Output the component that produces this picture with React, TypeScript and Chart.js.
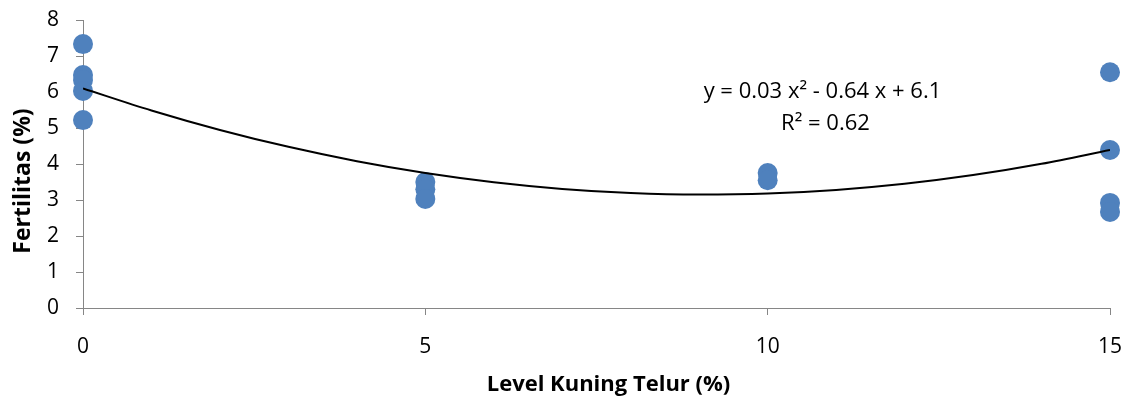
import React, { useEffect, useRef } from "react";
import { Chart, registerables } from "chart.js";

Chart.register(...registerables);

// Level Kuning Telur (%) for each observation
const levelValues: number[] = [0, 0, 0, 0, 0, 5, 5, 5, 10, 10, 15, 15, 15, 15];
// Fertilitas (%) for each observation
const fertilityValues: number[] = [7.33, 6.47, 6.33, 6.03, 5.22, 3.5, 3.3, 3.03, 3.75, 3.55, 6.55, 4.39, 2.92, 2.67];

// Polynomial trend line coefficients (y = a x^2 + b x + c)
const trendA = 0.0356;
const trendB = -0.648;
const trendC = 6.1;
const trendXs: number[] = [0, 1, 2, 3, 4, 5, 6, 7, 8, 9, 10, 11, 12, 13, 14, 15];

const equationLines: string[] = ["y = 0.03 x\u00B2 - 0.64 x + 6.1", "R\u00B2 = 0.62"];

const xTitle = "Level Kuning Telur (%)";
const yTitle = "Fertilitas (%)";

const FONT = "'Open Sans'";
const AXIS_GRAY = "#868686";
const POINT_BLUE = "#4F81BD";

export default function App() {
  const canvasRef = useRef<HTMLCanvasElement | null>(null);

  useEffect(() => {
    document.body.style.margin = "0";
    const canvas = canvasRef.current;
    if (!canvas) return;

    const points = levelValues.map((x, i) => ({ x, y: fertilityValues[i] }));
    const trend = trendXs.map((x) => ({ x, y: trendA * x * x + trendB * x + trendC }));

    const labelPlugin = {
      id: "textLabels",
      afterDatasetsDraw(chart: any) {
        const { ctx, chartArea } = chart;
        const xs = chart.scales.x;
        const ys = chart.scales.y;
        ctx.save();
        ctx.fillStyle = "#000";
        ctx.textAlign = "center";
        ctx.textBaseline = "middle";
        // trend line equation
        ctx.font = `22px ${FONT}`;
        const cx = xs.getPixelForValue(10.8);
        ctx.fillText(equationLines[0], cx, ys.getPixelForValue(6.0));
        ctx.fillText(equationLines[1], cx + 3, ys.getPixelForValue(5.13));
        // axis titles
        ctx.font = `bold 22px ${FONT}`;
        ctx.fillText(xTitle, (chartArea.left + chartArea.right) / 2 + 12, 385);
        ctx.save();
        ctx.translate(23, (chartArea.top + chartArea.bottom) / 2 + 17);
        ctx.rotate(-Math.PI / 2);
        ctx.font = `bold 23px ${FONT}`;
        ctx.fillText(yTitle, 0, 0);
        ctx.restore();
        ctx.restore();
      },
    };

    const chart = new Chart(canvas, {
      type: "scatter",
      data: {
        datasets: [
          {
            label: "Trend",
            data: trend,
            showLine: true,
            borderColor: "#000",
            borderWidth: 2,
            pointRadius: 0,
            tension: 0.4,
            cubicInterpolationMode: "monotone",
            order: 0,
          } as any,
          {
            label: "Fertilitas",
            data: points,
            backgroundColor: POINT_BLUE,
            borderColor: POINT_BLUE,
            borderWidth: 0,
            pointRadius: 10,
            clip: false,
            order: 1,
          } as any,
        ],
      },
      options: {
        animation: false,
        responsive: true,
        maintainAspectRatio: false,
        layout: { autoPadding: false, padding: { top: 20, right: 17, left: 0, bottom: 0 } },
        plugins: {
          legend: { display: false },
          tooltip: { enabled: false },
        },
        scales: {
          x: {
            type: "linear",
            min: 0,
            max: 15,
            ticks: {
              stepSize: 5,
              color: "#000",
              font: { family: FONT, size: 21 },
              padding: 19,
            },
            grid: {
              display: true,
              drawOnChartArea: false,
              drawTicks: true,
              tickLength: 7,
              color: AXIS_GRAY,
            },
            border: { display: true, color: AXIS_GRAY, width: 1 },
            afterFit: (scale: any) => {
              scale.height = 91;
              scale.paddingLeft = 0;
              scale.paddingRight = 0;
            },
          },
          y: {
            type: "linear",
            min: 0,
            max: 8,
            ticks: {
              stepSize: 1,
              color: "#000",
              font: { family: FONT, size: 21 },
              padding: 17,
            },
            grid: {
              display: true,
              drawOnChartArea: false,
              drawTicks: true,
              tickLength: 7,
              color: AXIS_GRAY,
            },
            border: { display: true, color: AXIS_GRAY, width: 1 },
            afterFit: (scale: any) => {
              scale.width = 83;
              scale.paddingTop = 0;
              scale.paddingBottom = 0;
            },
          },
        },
      } as any,
      plugins: [labelPlugin],
    });

    return () => chart.destroy();
  }, []);

  return (
    <div style={{ position: "relative", width: "1127px", height: "399px" }}>
      <canvas ref={canvasRef} />
    </div>
  );
}
